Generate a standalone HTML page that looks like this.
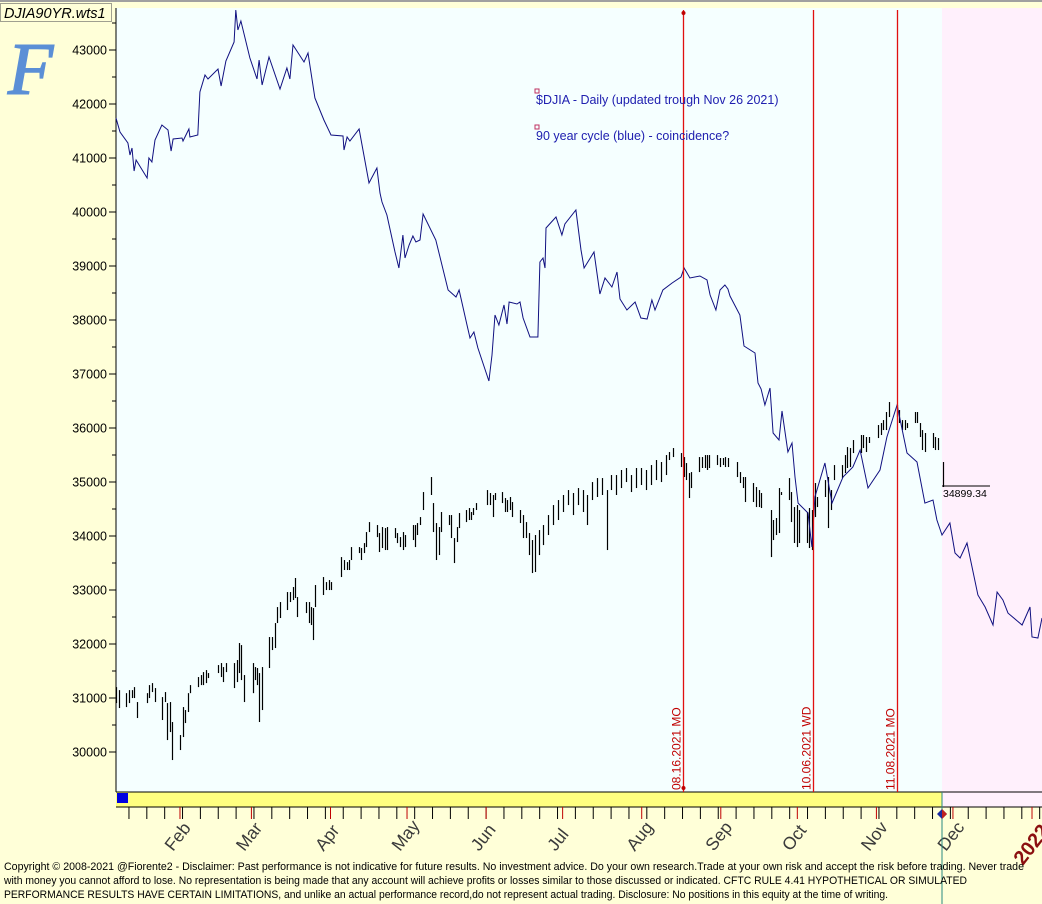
<!DOCTYPE html>
<html><head><meta charset="utf-8"><style>
html,body{margin:0;padding:0;background:#ffffd8;}
svg{display:block;font-family:"Liberation Sans",sans-serif;}
</style></head><body>
<svg id="chart" width="1042" height="904" xmlns="http://www.w3.org/2000/svg">
<rect x="0" y="0" width="1042" height="904" fill="#ffffd8"/>
<line x1="0" y1="1" x2="1042" y2="1" stroke="#a0a0a0" stroke-width="2"/>
<rect x="116" y="8" width="826" height="784" fill="#f5ffff"/>
<rect x="942" y="8" width="100" height="784" fill="#fff0fc"/>
<rect x="116" y="792" width="826" height="15" fill="#ffff80"/>
<rect x="942" y="792" width="100" height="15" fill="#fff0fc"/>
<line x1="116" y1="792" x2="1042" y2="792" stroke="#000"/>
<line x1="116" y1="807" x2="1042" y2="807" stroke="#000"/>
<rect x="117" y="793" width="11" height="10" fill="#0000e0"/>
<line x1="116" y1="8" x2="116" y2="792" stroke="#000"/>
<g id="yaxis"></g>
<g id="xaxis"></g>
<g id="bars"></g>
<path id="blue" fill="none" stroke="#101080" stroke-width="1"/>
<g id="vlines"></g>
<line x1="942" y1="792" x2="942" y2="904" stroke="#2a8a80"/>
<polygon points="942,809 947,814 942,819 937,814" fill="#1a2aa0"/>
<polygon points="942,809 947,814 942,819" fill="#c02020"/>
<rect x="535" y="89" width="4" height="4" fill="none" stroke="#c03060"/>
<text x="536" y="104" font-size="12.5" fill="#2020b0">$DJIA - Daily (updated trough Nov 26 2021)</text>
<rect x="535" y="125" width="4" height="4" fill="none" stroke="#c03060"/>
<text x="536" y="140" font-size="12.5" fill="#2020b0">90 year cycle (blue) - coincidence?</text>
<line x1="942" y1="486" x2="990" y2="486" stroke="#000"/>
<text x="943" y="497" font-size="10.5" fill="#000">34899.34</text>
<rect x="0.5" y="3.5" width="111" height="18" fill="#ffffd8" stroke="#a0a090"/>
<text x="4" y="18" font-size="14.5" font-style="italic" fill="#000">DJIA90YR.wts1</text>
<text x="8" y="94" font-size="74" font-family="Liberation Serif,serif" font-style="italic" fill="#5b8fd6" stroke="#5b8fd6" stroke-width="1.5">F</text>
<g font-size="11" fill="#000">
<text x="4" y="870" textLength="1020" lengthAdjust="spacingAndGlyphs">Copyright © 2008-2021 @Fiorente2 -  Disclaimer: Past performance is not indicative for future results. No investment advice. Do your own research.Trade at your own risk and accept the risk before trading. Never trade</text>
<text x="4" y="884" textLength="963" lengthAdjust="spacingAndGlyphs">with money you cannot afford to lose. No representation is being made that any account will achieve profits or losses similar to those discussed or indicated. CFTC RULE 4.41 HYPOTHETICAL OR SIMULATED</text>
<text x="4" y="898" textLength="884" lengthAdjust="spacingAndGlyphs">PERFORMANCE RESULTS HAVE CERTAIN LIMITATIONS, and unlike an actual performance record,do not represent actual trading. Disclosure: No positions in this equity at the time of writing.</text>
</g>
</svg>
<script>
// y ticks
const yTicks=[30000,31000,32000,33000,34000,35000,36000,37000,38000,39000,40000,41000,42000,43000];
// blue 90-year cycle line: day-of-year, value
const blueDays=[5.9,7.5,10.6,11.4,12.2,13.0,13.8,18.1,18.8,20.0,21.2,23.9,26.3,27.5,28.3,31.8,32.2,34.5,34.9,38.0,38.8,40.8,42.0,45.9,47.1,49.0,52.2,52.9,53.7,54.9,58.4,61.2,62.0,63.2,65.9,70.2,72.9,74.1,75.3,79.6,81.2,83.9,87.4,90.2,94.9,95.3,96.5,97.6,101.2,105.1,108.2,109.4,110.2,112.1,115.3,116.8,118.4,119.2,120.8,122.3,123.5,125.1,126.3,131.3,136.1,139.2,140.4,143.5,144.7,146.2,147.8,152.1,153.3,154.5,156.0,158.0,159.2,160.0,163.1,164.3,165.5,168.2,171.3,172.1,173.3,174.1,174.5,178.4,180.7,181.9,186.2,188.2,189.4,193.3,195.6,197.6,200.3,202.3,203.5,206.2,209.4,211.7,214.1,216.0,217.2,220.3,223.9,227.4,228.6,230.9,234.8,237.6,238.8,241.1,242.7,244.6,245.8,246.6,250.5,252.1,256.4,257.6,258.8,260.3,262.3,263.5,265.8,267.0,269.3,270.9,272.1,273.3,277.2,278.7,279.9,283.8,286.6,290.9,294.8,297.6,300.7,305.4,308.1,312.1,316.0,319.9,323.0,326.2,327.7,329.7,332.8,334.8,336.8,339.5,343.8,346.6,349.7,351.3,353.6,355.6,361.1,364.2,365.0,367.3,368.9];
const blueVals=[41741,41481,41278,41055,41185,40759,40963,40629,41000,40926,41333,41611,41518,41129,41352,41370,41315,41537,41389,41426,42222,42537,42463,42648,42333,42796,43148,43741,43370,43537,42852,42463,42815,42352,42870,42278,42667,42463,43093,42778,42944,42111,41704,41426,41407,41148,41389,41315,41537,40537,40815,40352,40185,39944,39259,38963,39574,39148,39389,39555,39444,39481,39963,39481,38555,38426,38555,37907,37666,37777,37481,36870,37352,38092,37907,38278,37926,38333,38296,38333,38037,37685,37685,39074,39148,38963,39704,39907,39574,39778,40037,39296,38963,39259,38481,38778,38611,38889,38389,38185,38333,38037,38018,38370,38185,38555,38685,38796,38963,38778,38815,38741,38463,38185,38555,38648,38574,38444,38092,37518,37389,36833,36722,36426,36741,35907,35777,36315,35555,35722,35092,34610,34425,33796,34722,35351,34610,35092,35277,35592,34888,35222,35833,36426,35537,35370,34610,34666,34296,34018,34240,33685,33592,33870,32907,32685,32351,32962,32814,32573,32351,32685,32129,32111,32481];
// DJIA 2021 daily bars: day-of-year, high, low
const barDays=[5.9,7.1,9.8,11.0,12.2,13.0,14.1,18.1,18.8,20.0,21.2,23.9,25.1,25.9,27.1,27.9,31.0,32.2,33.0,34.1,34.9,38.1,39.2,40.0,41.2,42.0,45.9,47.1,47.9,49.0,52.2,53.3,54.1,54.9,56.1,59.6,60.4,61.2,62.0,63.1,65.9,67.1,68.2,69.0,70.2,72.9,74.1,75.3,76.1,76.9,80.4,81.6,82.3,83.1,83.9,87.1,88.2,89.4,90.2,94.1,95.3,96.5,97.2,98.0,101.2,101.9,103.1,103.9,105.1,108.2,109.0,110.2,111.4,112.1,115.3,116.1,117.2,118.4,119.2,122.3,123.1,123.9,125.1,126.3,129.4,130.2,131.4,132.5,133.3,136.4,137.2,138.4,139.6,140.4,143.1,144.3,145.1,145.9,147.0,151.3,152.5,153.7,154.5,157.2,158.4,159.2,160.4,161.1,164.3,165.5,166.6,167.8,169.0,170.2,171.7,173.3,175.3,177.2,179.2,181.1,183.1,185.1,187.0,189.0,190.5,192.5,194.5,196.4,198.4,199.9,201.9,203.9,205.8,207.8,209.8,211.7,213.7,215.6,217.6,219.5,221.5,222.7,224.3,227.4,228.6,229.4,230.5,231.3,234.4,235.6,236.8,237.6,238.4,241.5,242.7,243.9,244.6,245.8,249.3,250.5,251.7,252.5,255.6,256.8,258.0,258.8,262.7,263.5,264.6,265.8,266.6,269.7,270.5,271.7,272.9,273.6,276.8,277.6,278.7,279.9,280.7,283.8,285.0,286.2,287.4,290.5,291.7,292.5,293.6,294.8,297.9,298.7,299.9,301.1,304.6,305.8,306.6,307.8,308.9,312.1,312.9,314.0,315.2,316.0,319.1,319.9,321.1,321.9,323.0,326.2,327.0,328.1,330.1];
const barHigh=[31202,31146,31090,31146,31146,31202,30925,31090,31239,31276,31184,31017,31110,30906,30925,30555,30314,30832,30777,31090,31239,31388,31425,31480,31517,31462,31610,31647,31573,31647,31647,31703,32018,31980,31425,31647,31573,31555,31462,31573,32129,32129,32388,32684,32777,32962,32962,33055,33222,32869,32777,32777,32684,32666,33092,33240,33147,33184,33147,33610,33555,33517,33555,33795,33795,33777,33869,34073,34258,34203,34055,34166,34147,34166,34147,34055,33980,34073,34018,34203,34203,34240,34351,34814,35092,34610,34240,34166,34444,34388,34388,33962,34166,34425,34481,34518,34444,34518,34610,34851,34796,34759,34796,34814,34703,34666,34722,34629,34481,34388,34258,34055,33925,34018,34110,34203,34388,34573,34666,34759,34851,34796,34888,34851,34759,34999,35073,35073,34851,35129,35129,35222,35259,35129,35259,35259,35222,35314,35407,35370,35499,35555,35629,35536,35462,35351,35166,35184,35462,35462,35499,35499,35499,35499,35444,35444,35462,35444,35370,35184,35092,35092,34981,34907,34851,34796,34481,34296,34333,34888,34814,35073,34814,34536,34573,34481,34444,34518,34481,34981,34722,35036,35092,34851,35314,35314,35499,35647,35629,35777,35870,35870,35833,35833,36055,36092,36147,36296,36481,36425,36333,36147,36147,36092,36296,36296,36092,35962,35907,35907,35833,35814,35370];
const barLow=[30906,30814,30832,30906,30999,30999,30629,30906,30999,31110,30925,30592,30925,30221,30369,29851,30036,30277,30536,30740,31090,31202,31239,31239,31276,31369,31462,31388,31295,31480,31184,31295,31462,31332,30925,31090,31332,31239,30555,30777,31555,31888,31925,32388,32481,32629,32777,32814,32851,32499,32573,32388,32351,32073,32684,32907,32999,32999,32999,33240,33370,33370,33370,33555,33684,33555,33684,33795,34073,33980,33703,33777,33740,33740,33962,33869,33795,33740,33795,33925,33795,34018,34203,34481,34759,34073,33555,33647,34073,34203,33962,33499,33888,34147,34258,34296,34296,34388,34481,34573,34573,34351,34666,34610,34444,34444,34481,34351,34240,33962,33962,33647,33314,33333,33647,33832,34018,34203,34296,34444,34573,34388,34573,34444,34203,34666,34722,34759,33740,34851,34759,34888,34999,34814,34888,34944,34851,34944,35036,34999,35129,35407,35462,35277,35092,35036,34703,34888,35184,35259,35259,35222,35259,35314,35277,35314,35277,35277,35092,34981,34888,34629,34629,34536,34536,34518,33610,33925,34018,34055,34759,34666,34258,33870,33795,33870,33870,33777,33740,34351,34536,34722,34147,34481,35036,35073,35166,35259,35277,35536,35536,35629,35555,35722,35814,35870,35962,35962,36203,36203,36092,35962,35962,35999,36092,36092,35833,35592,35555,35629,35592,35592,34907];
// event lines
const eventDays=[228,279,312];
const eventLabels=["08.16.2021 MO","10.06.2021 WD","11.08.2021 MO"];
// months
const monthDays=[31,59,90,120,151,181,212,243,273,304,334,365];
const monthLabels=["Feb","Mar","Apr","May","Jun","Jul","Aug","Sep","Oct","Nov","Dec","2022"];

const NS="http://www.w3.org/2000/svg";
const X=d=>100.9+d*2.551;
const Y=v=>50+(43000-v)*0.054;
function mk(tag,attrs,parent){const e=document.createElementNS(NS,tag);for(const k in attrs)e.setAttribute(k,attrs[k]);parent.appendChild(e);return e;}

const ya=document.getElementById('yaxis');
yTicks.forEach((v,i)=>{
  const y=Y(v);
  const t=mk('line',{x1:109,y1:y,x2:116,y2:y,stroke:'#000'},ya);
  
  
  const m=mk('line',{x1:112,y1:Y(v+500),x2:116,y2:Y(v+500),stroke:'#000'},ya);
  
  
  const tx=mk('text',{x:107,y:y+4.5,'font-size':12.5,'text-anchor':'end',fill:'#000'},ya);
  tx.textContent=v;
  
  
});

const xa=document.getElementById('xaxis');
for(let d=4;d<=372;d+=7){
  const x=X(d); if(x<118||x>1041)continue;
  const t=mk('line',{x1:x,y1:807,x2:x,y2:819,stroke:'#000'},xa);
  
  
}
monthDays.forEach((d,i)=>{
  const x=X(d);
  const t=mk('line',{x1:x,y1:807,x2:x,y2:819,stroke:'#c00000'},xa);
  
  
  const last=i===monthLabels.length-1;
  const bx=last?x-9:x-7, by=last?866:852;
  const tx=mk('text',{x:bx,y:by,'font-size':last?20:17.5,'text-anchor':'start',fill:last?'#8b1010':'#3a3a3a','font-weight':last?'bold':'normal',transform:`rotate(-52 ${bx} ${by})`},xa);
  tx.textContent=monthLabels[i];
  
  
});

const bg=document.getElementById('bars');
barDays.forEach((d,i)=>{
  const x=Math.round(X(d))+0.5;
  const b=mk('line',{x1:x,y1:Y(barHigh[i]),x2:x,y2:Y(barLow[i]),stroke:'#000','stroke-width':1.2},bg);
  
  
});

document.getElementById('blue').setAttribute('d',blueDays.map((d,i)=>(i?'L':'M')+X(d).toFixed(1)+','+Y(blueVals[i]).toFixed(1)).join(''));

const vl=document.getElementById('vlines');
eventDays.forEach((d,i)=>{
  const x=Math.round(X(d))+0.5;
  const l=mk('line',{x1:x,y1:10,x2:x,y2:792,stroke:'#e01010','stroke-width':1.3},vl);
  
  
  const tx=mk('text',{x:x-3,y:790,'font-size':12,fill:'#c00000',transform:`rotate(-90 ${x-3} 790)`},vl);
  tx.textContent=eventLabels[i];
  
  
  if(i===0){
    const p=mk('circle',{cx:x,cy:788,r:2,fill:'#c00000'},vl);
    
    
    const q=mk('circle',{cx:x,cy:13,r:2,fill:'#c00000'},vl);
    
    
  }
});
</script>
</body></html>
